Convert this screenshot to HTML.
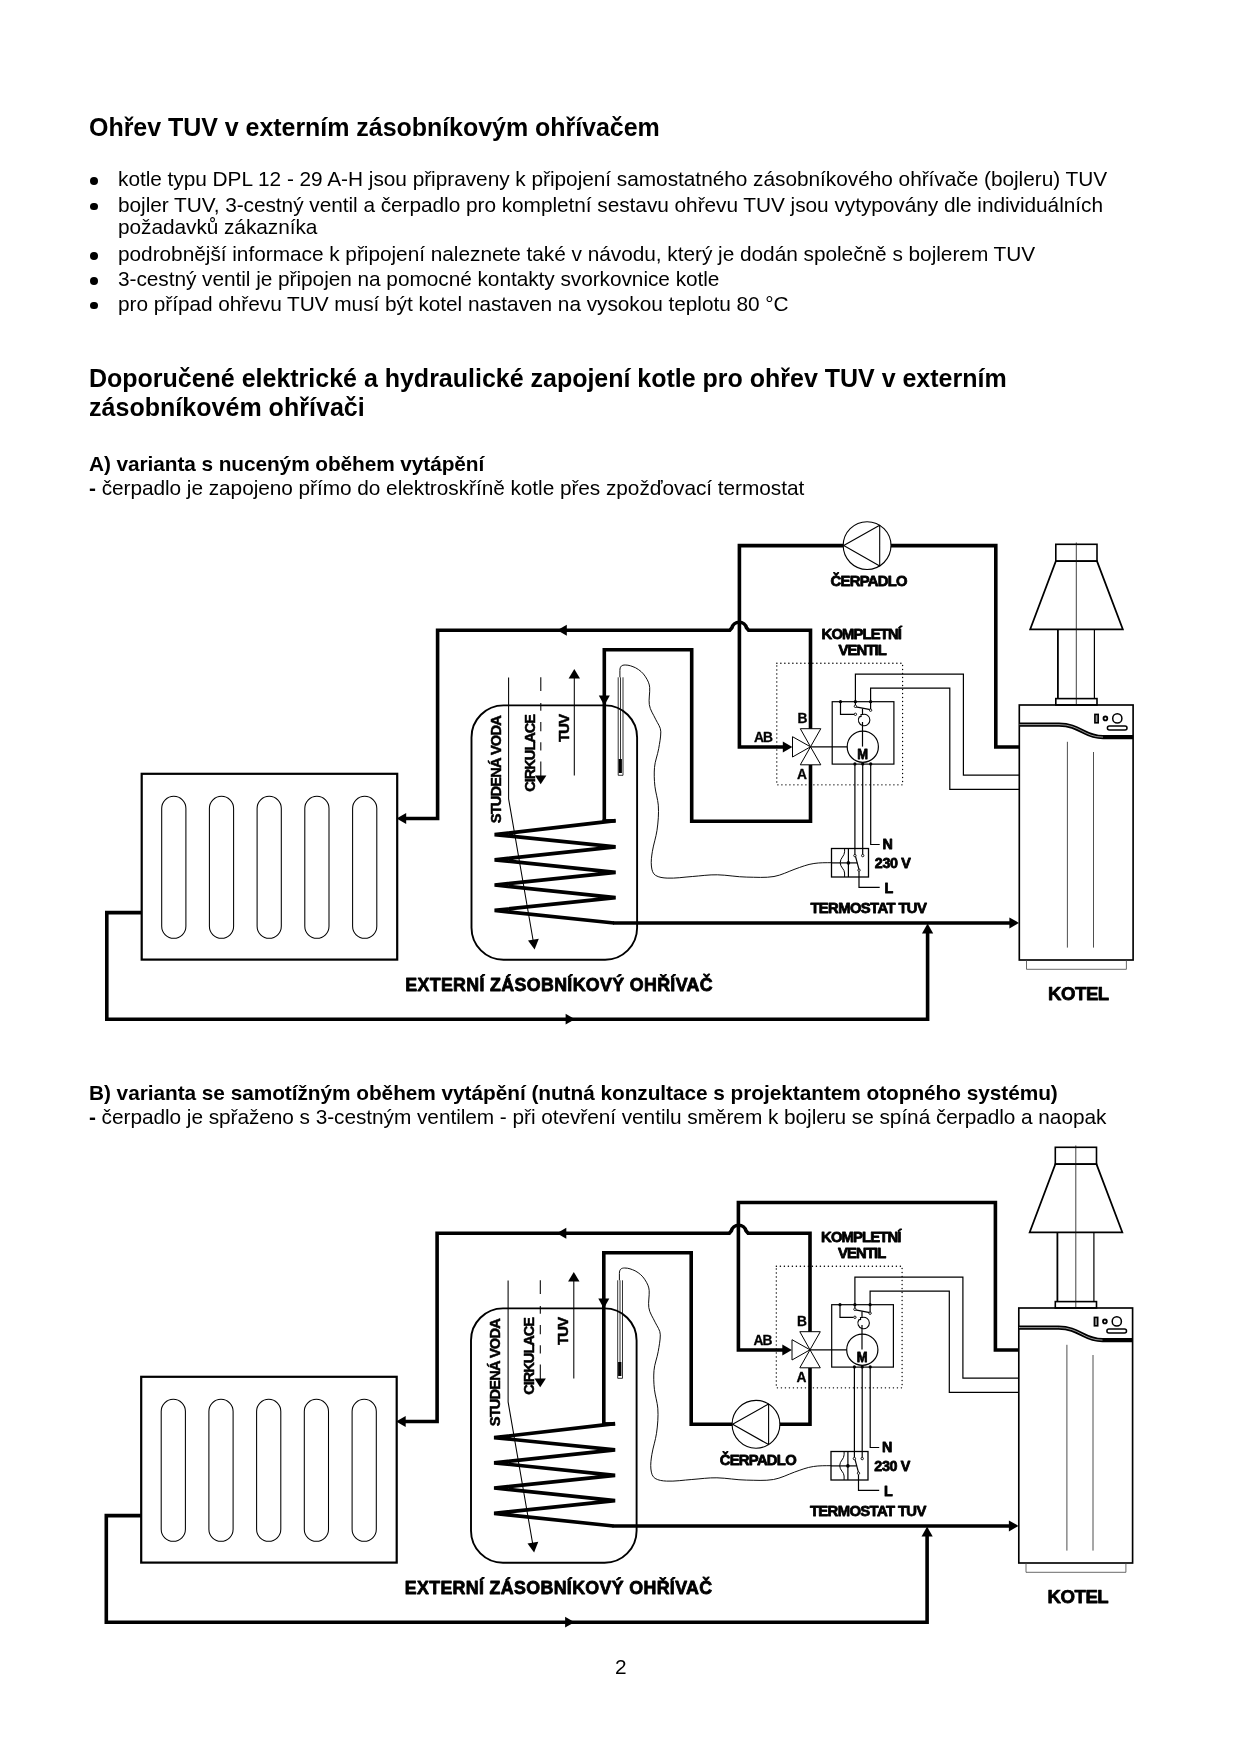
<!DOCTYPE html>
<html><head><meta charset="utf-8">
<style>
html,body{margin:0;padding:0;background:#fff;}
body{width:1240px;height:1754px;position:relative;overflow:hidden;font-family:"Liberation Sans",sans-serif;color:#000;}
.t{will-change:transform;position:absolute;white-space:nowrap;line-height:1;margin:0;padding:0;}
.h{font-weight:bold;font-size:25px;}
.p{font-size:20.83px;}
.b{font-weight:bold;font-size:20.83px;}
.dot{position:absolute;width:7.8px;height:7.8px;border-radius:50%;background:#000;left:90.2px;}
svg{position:absolute;left:0;top:0;will-change:transform;}
</style></head><body>
<div class="t h" id="t1" style="left:88.60px;top:114.84px;letter-spacing:-0.040px;">Ohřev TUV v externím zásobníkovým ohřívačem</div>
<div class="dot" style="top:176.8px"></div>
<div class="dot" style="top:202.6px"></div>
<div class="dot" style="top:252.0px"></div>
<div class="dot" style="top:276.9px"></div>
<div class="dot" style="top:301.7px"></div>
<div class="t p" id="t2" style="left:118.40px;top:169.07px;letter-spacing:-0.030px;">kotle typu DPL 12 - 29 A-H jsou připraveny k připojení samostatného zásobníkového ohřívače (bojleru) TUV</div>
<div class="t p" id="t3" style="left:118.40px;top:194.67px;letter-spacing:-0.043px;">bojler TUV, 3-cestný ventil a čerpadlo pro kompletní sestavu ohřevu TUV jsou vytypovány dle individuálních</div>
<div class="t p" id="t4" style="left:118.40px;top:217.37px;letter-spacing:-0.053px;">požadavků zákazníka</div>
<div class="t p" id="t5" style="left:118.40px;top:243.87px;letter-spacing:-0.030px;">podrobnější informace k připojení naleznete také v návodu, který je dodán společně s bojlerem TUV</div>
<div class="t p" id="t6" style="left:118.40px;top:269.17px;letter-spacing:-0.045px;">3-cestný ventil je připojen na pomocné kontakty svorkovnice kotle</div>
<div class="t p" id="t7" style="left:118.40px;top:293.57px;letter-spacing:-0.044px;">pro případ ohřevu TUV musí být kotel nastaven na vysokou teplotu 80 °C</div>
<div class="t h" id="t8" style="left:89.10px;top:365.54px;letter-spacing:-0.010px;">Doporučené elektrické a hydraulické zapojení kotle pro ohřev TUV v externím</div>
<div class="t h" id="t9" style="left:88.80px;top:395.44px;letter-spacing:0.030px;">zásobníkovém ohřívači</div>
<div class="t b" id="t10" style="left:89.30px;top:454.47px;letter-spacing:-0.080px;">A) varianta s nuceným oběhem vytápění</div>
<div class="t p" id="t11" style="left:89.30px;top:478.37px;letter-spacing:-0.050px;"><b>-</b> čerpadlo je zapojeno přímo do elektroskříně kotle přes zpožďovací termostat</div>
<div class="t b" id="t12" style="left:89.30px;top:1082.77px;letter-spacing:-0.050px;">B) varianta se samotížným oběhem vytápění (nutná konzultace s projektantem otopného systému)</div>
<div class="t p" id="t13" style="left:89.30px;top:1107.47px;letter-spacing:-0.055px;"><b>-</b> čerpadlo je spřaženo s 3-cestným ventilem - při otevření ventilu směrem k bojleru se spíná čerpadlo a naopak</div>
<div class="t p" id="t14" style="left:615.0px;top:1657.4px;">2</div>
<svg id="dg" width="1240" height="1754" viewBox="0 0 1240 1754">
<defs>
<g id="pump">
  <circle cx="0" cy="0" r="23.9" fill="#fff" stroke="#000" stroke-width="1.1"/>
  <path d="M-23.4,0 L12.6,-20.3 L12.6,20.3 Z" fill="none" stroke="#000" stroke-width="1.1" stroke-linejoin="round"/>
</g>
<g id="cm">
  <!-- thick pipes -->
  <g fill="none" stroke="#000" stroke-width="3.6" stroke-linejoin="miter" stroke-linecap="butt">
    <!-- P2: valve B up, left over bridge, down to radiator -->
    <path d="M810.5,729 V630.3 H748.6 L746.6,628 A7.6,7.4 0 0 0 731.8,628 L729.8,630.3 H437.6 V818.5 H404"/>
    <!-- P3: valve A down, left, up, left, down to coil -->
    <path d="M810.5,765 V821.2 H691.7 V649.8 H604.3 V821"/>
    <!-- P4: coil out to boiler -->
    <path d="M613,923 H1011"/>
    <!-- P5: radiator return -->
    <path d="M141.7,912.6 H106.8 V1019.2 H927.6 V932"/>
    <!-- coil -->
    <path d="M602.6,820.9 H615.6" />
  </g>
  <path d="M615.6,820.6 L494.6,834.6 L615.6,846.9 L494.6,859.8 L615.6,872.4 L494.6,885 L615.6,897.6 L494.6,910.4 L614,923 " fill="none" stroke="#000" stroke-width="3.7" stroke-linejoin="bevel"/>
  <!-- arrowheads -->
  <g fill="#000" stroke="none">
    <path d="M396.6,818.5 L406.2,813 V824 Z"/>
    <path d="M557.3,630.3 L566.8,624.8 V635.8 Z"/>
    <path d="M604.3,705.6 L598.8,695.6 H609.8 Z"/>
    <path d="M792.4,747 L782.8,741.4 V752.6 Z"/>
    <path d="M1019,922.9 L1009.4,917.4 V928.4 Z"/>
    <path d="M927.6,923.6 L922,933.4 H933.2 Z"/>
    <path d="M575,1019.2 L565.6,1013.8 V1024.6 Z"/>
    <!-- thin arrows in tank -->
    <path d="M574.3,669 L568.6,678.4 H580 Z"/>
    <path d="M540.7,784.2 L535,775.4 H546.4 Z"/>
    <path d="M534.6,949.6 L528,940.6 L538.8,938.8 Z"/>
  </g>
  <!-- radiator -->
  <rect x="141.7" y="773.8" width="255.5" height="185.8" fill="none" stroke="#000" stroke-width="2.2"/>
  <g fill="none" stroke="#000" stroke-width="1.05">
    <rect x="161.7" y="796.3" width="24.2" height="142" rx="12.1"/>
    <rect x="209.4" y="796.3" width="24.2" height="142" rx="12.1"/>
    <rect x="257.1" y="796.3" width="24.2" height="142" rx="12.1"/>
    <rect x="304.8" y="796.3" width="24.2" height="142" rx="12.1"/>
    <rect x="352.6" y="796.3" width="24.2" height="142" rx="12.1"/>
  </g>
  <!-- tank -->
  <rect x="471.5" y="705.4" width="165.6" height="254.4" rx="32" fill="none" stroke="#000" stroke-width="1.9"/>
  <!-- tank thin lines -->
  <g fill="none" stroke="#000" stroke-width="1.05">
    <path d="M508.6,677.5 V798.9 L533.4,942"/>
    <path d="M540.8,677.2 V691 M540.8,703.1 V710.8 M540.8,722 V731.2 M540.8,742.3 V750.5 M540.8,761.6 V776"/>
    <path d="M574.3,677 V775.6"/>
    <!-- sensor -->
    <path d="M618.2,677.3 V775.3 H623 V677.3 M620.5,677.3 V759" stroke-width="0.8"/>
    <!-- capillary -->
    <path d="M619.9,677.3 V670.5 C619.9,666 622,665 625.2,665 C629,665 632,666.2 635.6,667.8 C640,670.2 643,673 645.1,676.2 C648,680.5 649.5,684 649.7,687.7 C650,693 648.6,699 649.3,704.5 C650,710 653.5,714.5 655.6,719.2 C657.6,723.5 660.8,727 660.8,731.8 C660.8,737.5 659.6,743 658.7,748.6 C657.6,755 655,761 654.5,767.4 C654,773.5 654.2,780 654.9,786.3 C655.6,792.6 657.8,799 658.3,805.2 C658.9,813.5 658.2,822 657,830.3 C656,837.4 653.5,844.3 652.4,851.3 C651.6,856.3 650.9,861.2 651.4,866 C651.9,870.5 652.8,873.6 655.6,875.4 C658.8,877.4 663,877.9 667.1,878.1 C675.5,878.5 684,877.1 692.3,876.5 C700.6,875.9 709,874.6 717.4,874.8 C727.2,875 737,877 746.8,877.1 C756,877.2 765.2,878 774,876.5 C781.4,875.2 788.1,871.6 795,869.1 C801.2,866.9 807.4,864.4 813.9,863.5 C819.7,862.6 825.8,862.7 831.7,862.7" stroke-width="0.95"/>
  </g>
  <rect x="618.6" y="759" width="3.3" height="14" fill="#000"/>
  <!-- dotted box -->
  <rect x="776.8" y="663.2" width="125.8" height="121.6" fill="none" stroke="#000" stroke-width="1.35" stroke-dasharray="0.15,3.85" stroke-linecap="round"/>
  <!-- valve -->
  <g fill="#fff" stroke="#000" stroke-width="1" stroke-linejoin="miter">
    <path d="M810.5,746.8 L800.3,728.7 H820.8 Z"/>
    <path d="M810.5,746.8 L800.3,764.8 H820.8 Z"/>
    <path d="M810.5,746.8 L792.5,736.7 V757 Z"/>
  </g>
  <!-- motor box -->
  <g fill="none" stroke="#000" stroke-width="1.2">
    <rect x="832.2" y="701.7" width="61.7" height="62.4"/>
    <path d="M810.5,746.8 H847.2"/>
    <circle cx="862.8" cy="746.7" r="15.6"/>
    <path d="M862.5,746.6 V722"/>
    <!-- small circle with notch -->
    <path d="M862.5,714.5 A5.75,5.75 0 1 1 859.3,716.9 L861.2,716.4 L860.9,714.5 Z" stroke-width="1.1" stroke-linejoin="round"/>
    <path d="M862.5,708.6 V714.4"/>
    <path d="M855.9,706.9 L870.3,709.7"/>
    <path d="M840.5,701.7 V714.3 H854.2"/>
    <circle cx="855.4" cy="706.3" r="1.2" fill="#fff" stroke-width="0.9"/>
    <circle cx="870.6" cy="710.2" r="1.2" fill="#fff" stroke-width="0.9"/>
    <circle cx="855.4" cy="714.3" r="1.2" fill="#fff" stroke-width="0.9"/>
    <!-- wires up to boiler -->
    <path d="M855.4,705 V674.2 H963.4 V775.2 H1019.2"/>
    <path d="M870.6,709 V688.2 H949.8 V789.3 H1019.2"/>
    <!-- wires down -->
    <path d="M854.9,763.8 V854.4"/>
    <path d="M862.7,763.8 V854.4"/>
    <path d="M870.7,763.8 V844.5 H879.7"/>
    <!-- thermostat -->
    <rect x="831.5" y="848.5" width="37" height="28.5" stroke-width="1.3"/>
    <path d="M848.4,848.5 V877"/>
    <path d="M831.5,862.9 H857.1"/>
    <path d="M844.6,848.5 V851.8 C844.6,856 840.2,858 840.2,862.7 C840.2,867.4 844.6,869 844.6,873 V877" stroke-width="1"/>
    <path d="M855.5,856.4 L858.9,869.2"/>
    <path d="M859,871.4 V887.4 H879.7"/>
    <circle cx="854.9" cy="855.6" r="1.2" fill="#fff" stroke-width="0.9"/>
    <circle cx="862.7" cy="855.6" r="1.2" fill="#fff" stroke-width="0.9"/>
    <circle cx="859" cy="870.2" r="1.2" fill="#fff" stroke-width="0.9"/>
  </g>
  <g fill="#000">
    <circle cx="840.5" cy="701.7" r="1.6"/><circle cx="855.4" cy="701.7" r="1.6"/><circle cx="870.6" cy="701.7" r="1.6"/>
    <circle cx="854.9" cy="763.9" r="1.6"/><circle cx="862.7" cy="763.9" r="1.6"/><circle cx="870.7" cy="763.9" r="1.6"/>
    <circle cx="848.4" cy="862.9" r="1.8"/>
  </g>
  <!-- boiler -->
  <g fill="none" stroke="#000">
    <rect x="1019.3" y="705" width="113.8" height="255" stroke-width="1.65" fill="#fff"/>
    <path d="M1026.5,960 V969.3 H1126.4 V960" stroke-width="0.8" stroke="#444"/>
    <path d="M1067.4,741.8 V947.6 M1093.5,752 V947.6" stroke-width="0.8" stroke="#222"/>
    <path d="M1019.5,724.6 H1059 C1080,724.6 1084,737.1 1103,737.1 H1133" stroke-width="4.2"/>
    <path d="M1019.5,724.6 H1059 C1080,724.6 1084,737.1 1103,737.1" stroke-width="0.6" stroke="#fff"/>
    <rect x="1094.9" y="714.4" width="3.3" height="8.4" stroke-width="1.6" fill="#999"/>
    <circle cx="1105.4" cy="718.4" r="1.9" stroke-width="1.8"/>
    <circle cx="1117.3" cy="718.4" r="4.6" stroke-width="1.5"/>
    <rect x="1107.4" y="725.9" width="19.6" height="4" rx="2" stroke-width="1.5"/>
    <!-- chimney -->
    <rect x="1055.8" y="698.6" width="41.2" height="6.4" stroke-width="1.6"/>
    <path d="M1057.9,629.5 V698.6" stroke-width="1.8"/>
    <path d="M1094.4,629.5 V698.6" stroke-width="1.2"/>
    <path d="M1055.8,561.2 L1030.2,629.3 H1122.8 L1097,561.2 Z" stroke-width="1.8" stroke-linejoin="miter"/>
    <rect x="1055.8" y="544.3" width="41.2" height="16.9" stroke-width="1.6"/>
    <path d="M1076.3,542.5 V704" stroke-width="0.8" stroke="#111"/>
  </g>
  <!-- labels -->
  <g font-family="Liberation Sans, sans-serif" font-weight="bold" fill="#000" stroke="#000" stroke-width="0.8" stroke-linejoin="round">
    <text x="821.6" y="638.8" font-size="14.8" textLength="80.3" lengthAdjust="spacing">KOMPLETNÍ</text>
    <text x="838.6" y="655.3" font-size="14.8" textLength="48.3" lengthAdjust="spacing">VENTIL</text>
    <text x="754.1" y="742.4" font-size="13.8" textLength="18.9" lengthAdjust="spacing" stroke-width="0.3">AB</text>
    <text x="797.6" y="723.3" font-size="13.8" stroke-width="0.3">B</text>
    <text x="797.1" y="778.5" font-size="13.8" stroke-width="0.3">A</text>
    <text x="857.3" y="759" font-size="14" textLength="10.8" lengthAdjust="spacingAndGlyphs">M</text>
    <text x="882.6" y="848.8" font-size="14.3">N</text>
    <text x="874.8" y="867.8" font-size="14.3" textLength="36" lengthAdjust="spacing">230 V</text>
    <text x="884.6" y="892.6" font-size="14.3">L</text>
    <text x="810.4" y="913.2" font-size="14.8" textLength="116.4" lengthAdjust="spacing">TERMOSTAT TUV</text>
    <text x="405.2" y="991.4" font-size="17.8" textLength="307.4" lengthAdjust="spacing">EXTERNÍ ZÁSOBNÍKOVÝ OHŘÍVAČ</text>
    <text x="1048" y="999.8" font-size="18.6" textLength="61.2" lengthAdjust="spacing" stroke-width="0.75">KOTEL</text>
    <text transform="translate(500.9,823.2) rotate(-90)" font-size="14.6" textLength="107.9" lengthAdjust="spacing" stroke-width="0.5">STUDENÁ VODA</text>
    <text transform="translate(534.9,791.8) rotate(-90)" font-size="14.6" textLength="77.9" lengthAdjust="spacing" stroke-width="0.5">CIRKULACE</text>
    <text transform="translate(568.6,742.1) rotate(-90)" font-size="14.6" textLength="28.1" lengthAdjust="spacing" stroke-width="0.5">TUV</text>
  </g>
</g>
</defs>
<!-- Diagram A -->
<g>
  <path d="M1019.2,747 H995.8 V545.6 H739.4 V747 H786" fill="none" stroke="#000" stroke-width="3.6"/>
  <use href="#cm"/>
  <use href="#pump" x="867.1" y="545.6"/>
  <text x="830.6" y="586.2" font-family="Liberation Sans, sans-serif" font-weight="bold" font-size="14.8" stroke="#000" stroke-width="0.8" stroke-linejoin="round" textLength="77" lengthAdjust="spacing">ČERPADLO</text>
</g>
<!-- Diagram B -->
<g>
  <path d="M1019.2,1350 H995.4 V1202.5 H738.4 V1350 H786" fill="none" stroke="#000" stroke-width="3.6"/>
  <use href="#cm" transform="translate(-0.5,603)"/>
  <use href="#pump" x="756" y="1424.3"/>
  <text x="719.7" y="1464.8" font-family="Liberation Sans, sans-serif" font-weight="bold" font-size="14.8" stroke="#000" stroke-width="0.8" stroke-linejoin="round" textLength="77" lengthAdjust="spacing">ČERPADLO</text>
</g>

</svg>
</body></html>
